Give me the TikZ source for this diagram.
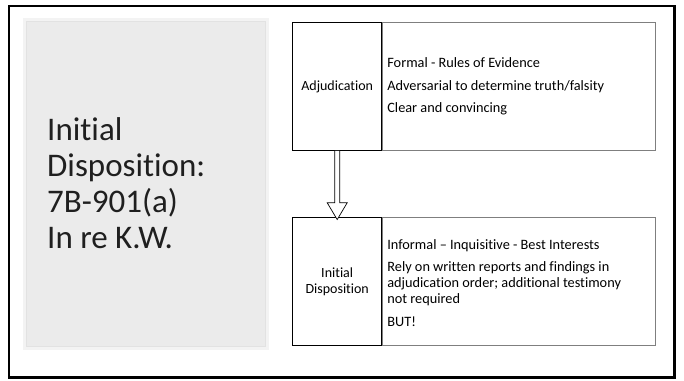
\documentclass[tikz,border=0pt]{standalone}
\usepackage{fontspec}
\setmainfont{Carlito}[Ligatures={NoCommon}]
\usetikzlibrary{calc}
\definecolor{panelfill}{HTML}{EBEBEB}
\definecolor{panelrim}{HTML}{F3F3F3}
\definecolor{panelline}{HTML}{E2E2E2}
\definecolor{txtline}{HTML}{7F7F7F}
\tikzset{
  labelbox/.style={draw=black, line width=0.9pt, inner sep=0pt, minimum width=89pt, minimum height=128pt, align=center, font=\fontsize{14}{16}\selectfont},
  textbox/.style={draw=txtline, line width=0.9pt, inner sep=0pt, minimum width=272.6pt, minimum height=128pt},
  bodytext/.style={inner sep=0pt, align=left, anchor=west, font=\fontsize{14.3}{16}\selectfont},
  blockarrow/.style={draw=black, line width=0.7pt, fill=white, line join=miter}
}
\begin{document}
\begin{tikzpicture}[x=1pt,y=-1pt]
\useasboundingbox (0,0) rectangle (684,380);
\fill[white] (0,0) rectangle (684,380);
% outer frame
\draw[line width=2.5pt] (9,6) rectangle (674.5,377.5);
% grey panel
\draw[panelrim, line width=3pt, fill=panelfill] (24.5,19.5) rectangle (267.5,348.5);
\draw[panelline, line width=1pt] (26.5,21.5) rectangle (265.5,346.5);
\node[inner sep=0pt, align=left, anchor=base west, font=\fontsize{33}{36}\selectfont, text=black!88] (title) at (47,248.3)
  {Initial\\Disposition:\\7B-901(a)\\In re K.W.};
% top row
\node[labelbox] (adj) at (337.2,86.5) {Adjudication};
\node[textbox, anchor=west] (adjtext) at (adj.east) {};
\node[bodytext] (adjbody) at ([xshift=5pt]adjtext.west)
  {Formal - Rules of Evidence\\[6.5pt]Adversarial to determine truth/falsity\\[6.5pt]Clear and convincing};
% bottom row
\node[labelbox] (disp) at (337.2,281.7) {Initial\\Disposition};
\node[textbox, anchor=west] (disptext) at (disp.east) {};
\node[bodytext] (dispbody) at ([xshift=5pt,yshift=-1pt]disptext.west)
  {Informal -- Inquisitive - Best Interests\\[6.5pt]Rely on written reports and findings in\\adjudication order; additional testimony\\not required\\[6.5pt]BUT!};
% hollow block arrow
\path (adj.south) coordinate (a0) (disp.north) coordinate (b0);
\draw[blockarrow] ($(a0)+(-2.5,0)$) -- ($(b0)+(-2.5,-14.5)$) -- ($(b0)+(-10,-14.5)$) -- ($(b0)+(0,2.3)$)
  -- ($(b0)+(10,-14.5)$) -- ($(b0)+(2.5,-14.5)$) -- ($(a0)+(2.5,0)$);
\end{tikzpicture}
\end{document}
